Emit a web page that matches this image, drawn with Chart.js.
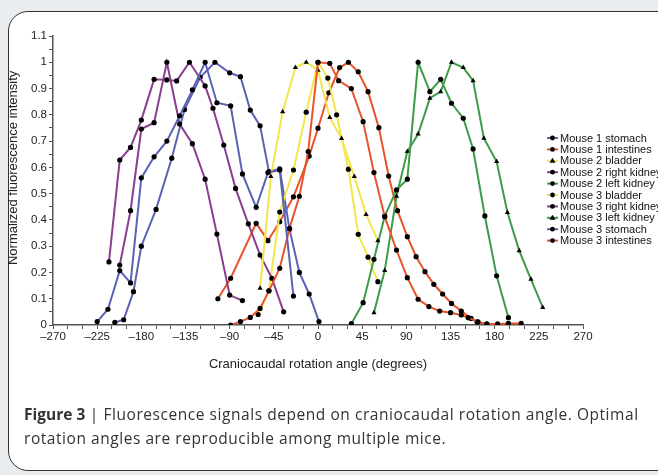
<!DOCTYPE html>
<html>
<head>
<meta charset="utf-8">
<script src="https://cdn.jsdelivr.net/npm/chart.js@4.4.0/dist/chart.umd.min.js"></script>
<style>
  html, body { margin: 0; padding: 0; }
  body { width: 658px; height: 475px; background: #e9edf0; position: relative; overflow: hidden; font-family: "Liberation Sans", Arial, sans-serif; }
  #frame { position: absolute; left: 8px; top: 11px; width: 670px; height: 458px; background: #fff; border: 1.5px solid #333; border-radius: 20px; }
  #chartWrap { position: absolute; left: 0; top: 0; width: 658px; height: 475px; }
  #caption { position: absolute; left: 24px; top: 402px; width: 640px; font-family: "Open Sans", sans-serif; font-size: 15.5px; line-height: 24px; color: #333; letter-spacing: 0.55px; white-space: nowrap; }
  #caption b { font-weight: 700; letter-spacing: 0; }
</style>
</head>
<body>
<div id="frame"></div>
<div id="chartWrap"><canvas id="c" width="658" height="475"></canvas></div>
<div id="caption"><b>Figure 3</b> | Fluorescence signals depend on craniocaudal rotation angle. Optimal<br>rotation angles are reproducible among multiple mice.</div>
<script>
// angle (degrees) / normalized intensity
const m1StomachDeg = [-225, -214, -202, -191, -180, -167, -154, -141, -128, -115, -103, -89, -77, -63, -51, -39, -25];
const m1StomachVal = [0.013, 0.06, 0.207, 0.16, 0.56, 0.64, 0.70, 0.796, 0.895, 1.0, 0.846, 0.834, 0.575, 0.448, 0.58, 0.59, 0.11];

const m1IntestDeg = [-89, -79, -69, -59, -50, -39, -29, -19, -10, 0, 12, 21, 34, 46, 57, 68, 80, 91, 102, 113, 124, 135, 146, 153, 163, 172];
const m1IntestVal = [0, 0.013, 0.029, 0.063, 0.13, 0.216, 0.368, 0.49, 0.66, 1.0, 0.996, 0.93, 0.9, 0.774, 0.58, 0.412, 0.285, 0.18, 0.098, 0.07, 0.053, 0.047, 0.038, 0.028, 0.012, 0.003];

const m2BladderDeg = [-59, -48, -36, -23, -12, 0, 12, 24, 37, 49, 61];
const m2BladderVal = [0.14, 0.565, 0.812, 0.98, 1.0, 0.97, 0.79, 0.71, 0.565, 0.421, 0.321];

const m2RKidneyDeg = [-213, -202, -191, -180, -167, -154, -144, -131, -115, -107, -96, -84, -71, -59, -47, -35];
const m2RKidneyVal = [0.24, 0.628, 0.676, 0.78, 0.935, 0.933, 0.929, 1.0, 0.91, 0.825, 0.685, 0.52, 0.385, 0.266, 0.178, 0.05];

const m2LKidneyDeg = [34, 46, 57, 68, 80, 91, 102, 114, 125, 136, 148, 158, 170, 182, 194];
const m2LKidneyVal = [0.005, 0.085, 0.25, 0.415, 0.514, 0.555, 1.0, 0.888, 0.935, 0.844, 0.787, 0.67, 0.415, 0.187, 0.028];

const m3BladderDeg = [-61, -50, -39, -25, -12, 0, 10, 19, 31, 41, 51, 61];
const m3BladderVal = [0.04, 0.13, 0.43, 0.59, 0.81, 1.0, 0.94, 0.8, 0.593, 0.345, 0.258, 0.165];

const m3RKidneyDeg = [-202, -191, -180, -167, -154, -141, -128, -115, -103, -90, -77];
const m3RKidneyVal = [0.228, 0.435, 0.746, 0.77, 1.0, 0.765, 0.69, 0.555, 0.346, 0.114, 0.093];

const m3LKidneyDeg = [57, 68, 80, 91, 102, 114, 125, 136, 148, 158, 169, 182, 193, 205, 217, 229];
const m3LKidneyVal = [0.047, 0.207, 0.49, 0.66, 0.727, 0.863, 0.888, 1.0, 0.98, 0.93, 0.711, 0.622, 0.428, 0.283, 0.174, 0.067];

const m3StomachDeg = [-207, -198, -188, -180, -165, -149, -136, -120, -105, -90, -79, -69, -59, -50, -39, -29, -19, -9, 1];
const m3StomachVal = [0.01, 0.02, 0.127, 0.30, 0.44, 0.635, 0.82, 0.943, 1.0, 0.96, 0.945, 0.818, 0.758, 0.584, 0.594, 0.364, 0.2, 0.118, 0.013];

const m3IntestDeg = [-102, -89, -63, -51, -39, -25, -9, 0, 11, 22, 31, 41, 51, 62, 72, 81, 91, 100, 109, 118, 127, 136, 146, 156, 162, 172, 183, 194, 207];
const m3IntestVal = [0.1, 0.178, 0.387, 0.321, 0.393, 0.488, 0.643, 0.749, 0.884, 0.98, 1.0, 0.964, 0.888, 0.751, 0.567, 0.435, 0.336, 0.26, 0.203, 0.155, 0.118, 0.082, 0.053, 0.025, 0.012, 0.004, 0.004, 0.006, 0.006];

const BLUE = "#5b62b3";
const RED = "#e8532c";
const YELLOW = "#f4e64a";
const PURPLE = "#8a3e90";
const GREEN = "#3e9c48";

const FONT = "'Liberation Sans', Arial, sans-serif";

function pts(xs, ys) {
  return xs.map((x, i) => ({ x, y: ys[i] }));
}

function series(label, xs, ys, color, marker) {
  return {
    label,
    data: pts(xs, ys),
    borderColor: color,
    borderWidth: 2,
    backgroundColor: "#000",
    pointBackgroundColor: "#000",
    pointBorderColor: "#000",
    pointBorderWidth: 0,
    pointStyle: marker,
    pointRadius: marker === "triangle" ? 3 : 2.6,
    tension: 0
  };
}

const datasets = [
  series("Mouse 1 stomach", m1StomachDeg, m1StomachVal, BLUE, "circle"),
  series("Mouse 1 intestines", m1IntestDeg, m1IntestVal, RED, "circle"),
  series("Mouse 2 bladder", m2BladderDeg, m2BladderVal, YELLOW, "triangle"),
  series("Mouse 2 right kidney", m2RKidneyDeg, m2RKidneyVal, PURPLE, "circle"),
  series("Mouse 2 left kidney", m2LKidneyDeg, m2LKidneyVal, GREEN, "circle"),
  series("Mouse 3 bladder", m3BladderDeg, m3BladderVal, YELLOW, "circle"),
  series("Mouse 3 right kidney", m3RKidneyDeg, m3RKidneyVal, PURPLE, "circle"),
  series("Mouse 3 left kidney", m3LKidneyDeg, m3LKidneyVal, GREEN, "triangle"),
  series("Mouse 3 stomach", m3StomachDeg, m3StomachVal, BLUE, "circle"),
  series("Mouse 3 intestines", m3IntestDeg, m3IntestVal, RED, "circle")
];

// small legend to the right of the plot, drawn from the datasets
const sideLegend = {
  id: "sideLegend",
  afterDraw(chart) {
    const ctx = chart.ctx;
    const x0 = 547, y0 = 138, rowH = 11.4;
    ctx.save();
    ctx.font = "11px " + FONT;
    ctx.textBaseline = "middle";
    chart.data.datasets.forEach((ds, i) => {
      const y = y0 + i * rowH;
      ctx.strokeStyle = ds.borderColor;
      ctx.lineWidth = 2;
      ctx.beginPath();
      ctx.moveTo(x0, y);
      ctx.lineTo(x0 + 11, y);
      ctx.stroke();
      ctx.fillStyle = "#000";
      ctx.beginPath();
      if (ds.pointStyle === "triangle") {
        ctx.moveTo(x0 + 5.5, y - 3);
        ctx.lineTo(x0 + 8.5, y + 2);
        ctx.lineTo(x0 + 2.5, y + 2);
        ctx.closePath();
      } else {
        ctx.arc(x0 + 5.5, y, 2.4, 0, Math.PI * 2);
      }
      ctx.fill();
      ctx.fillStyle = "#111";
      ctx.fillText(ds.label, x0 + 13, y + 0.5);
    });
    ctx.restore();
  }
};

const axisColor = "#555";
const textColor = "#222";

new Chart(document.getElementById("c"), {
  type: "line",
  data: { datasets },
  options: {
    responsive: false,
    animation: false,
    layout: { padding: { top: 36, right: 75, bottom: 100, left: 0 } },
    scales: {
      x: {
        type: "linear",
        min: -270,
        max: 270,
        afterFit(s) { s.height = 50; },
        ticks: {
          stepSize: 15,
          autoSkip: false,
          maxRotation: 0,
          color: textColor,
          padding: 1,
          font: { size: 11.5, family: FONT },
          callback: (v) => (v % 45 === 0 ? (v < 0 ? "\u2013" + (-v) : String(v)) : "")
        },
        grid: { drawOnChartArea: false, drawTicks: true, tickLength: 4, tickColor: axisColor, tickWidth: 1 },
        border: { color: axisColor, width: 1.5 },
        title: {
          display: true,
          text: "Craniocaudal rotation angle (degrees)",
          color: textColor,
          font: { size: 13, family: FONT },
          padding: { top: 0, bottom: 3 }
        }
      },
      y: {
        min: 0,
        max: 1.1,
        afterFit(s) { s.width = 53; },
        ticks: {
          stepSize: 0.05,
          autoSkip: false,
          color: textColor,
          padding: 2,
          font: { size: 11.5, family: FONT },
          callback: (v) => {
            const t = Math.round(v * 10);
            return Math.abs(v * 10 - t) < 1e-6 ? String(t / 10) : "";
          }
        },
        grid: { drawOnChartArea: false, drawTicks: true, tickLength: 4, tickColor: axisColor, tickWidth: 1 },
        border: { color: axisColor, width: 1.5 },
        title: {
          display: true,
          // leading spaces nudge the rotated title upward, as in the original
          text: "\u00a0\u00a0\u00a0\u00a0\u00a0\u00a0\u00a0Normalized fluorescence intensity",
          color: textColor,
          font: { size: 13, family: FONT },
          padding: { top: 6, bottom: 0 }
        }
      }
    },
    plugins: {
      legend: { display: false },
      tooltip: { enabled: false }
    }
  },
  plugins: [sideLegend]
});
</script>
</body>
</html>
